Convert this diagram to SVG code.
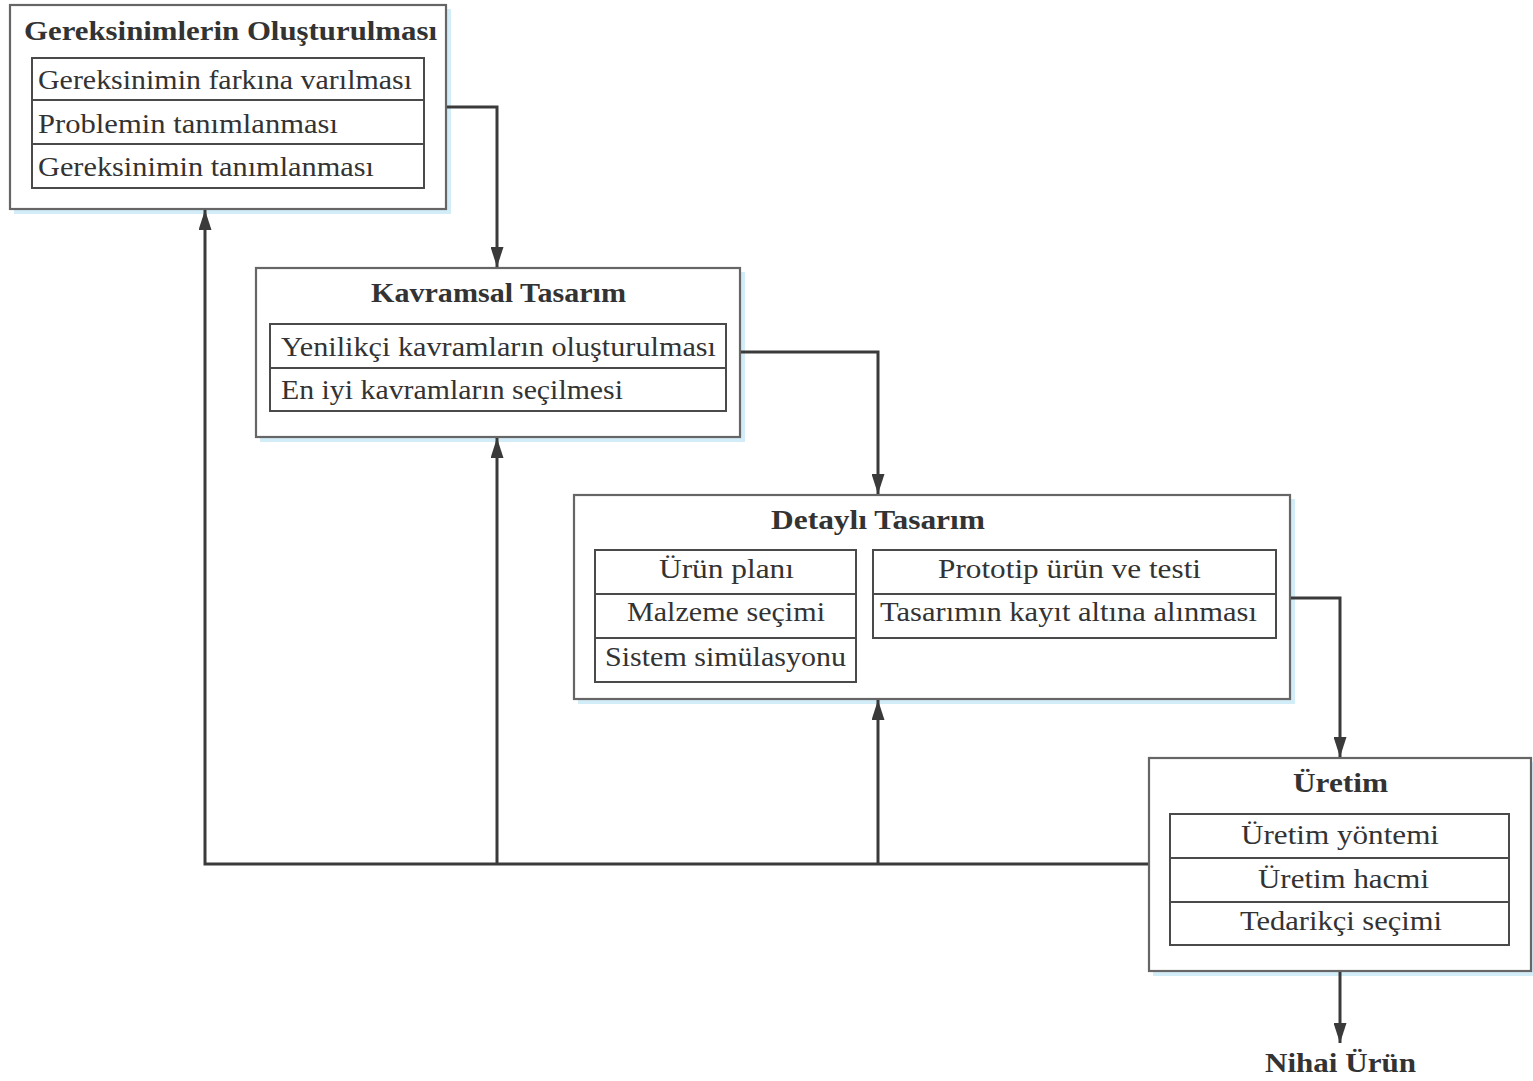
<svg xmlns="http://www.w3.org/2000/svg" width="1533" height="1081" viewBox="0 0 1533 1081">
<defs>
<style>
.shadow{fill:#d2ecf8;stroke:none}
.outer{fill:#fff;stroke:#666;stroke-width:2.2}
.inner{fill:#fff;stroke:#4a4a4a;stroke-width:2}
.sep{stroke:#4a4a4a;stroke-width:2}
.title{font-family:"Liberation Serif",serif;font-weight:bold;font-size:27px;fill:#333;text-anchor:middle}
.item{font-family:"Liberation Serif",serif;font-size:27px;fill:#333}
.c{text-anchor:middle}
.conn{fill:none;stroke:#3a3a3a;stroke-width:3}
</style>
<marker id="arr" markerWidth="20" markerHeight="13" refX="20" refY="6.5" orient="auto" markerUnits="userSpaceOnUse" viewBox="0 0 20 13">
<path d="M0,0 L20,6.5 L0,13 Z" fill="#3a3a3a"/>
</marker>
</defs>

<g id="gereksinim">
<rect class="shadow" x="14" y="9" width="437" height="205"/>
<rect class="outer" x="10" y="5" width="436" height="204"/>
<text class="title" x="230.5" y="40" textLength="413" lengthAdjust="spacingAndGlyphs">Gereksinimlerin Oluşturulması</text>
<rect class="inner" x="32" y="58" width="392" height="130"/>
<line class="sep" x1="32" y1="100" x2="424" y2="100"/>
<line class="sep" x1="32" y1="144" x2="424" y2="144"/>
<text class="item" x="38" y="89" textLength="374" lengthAdjust="spacingAndGlyphs">Gereksinimin farkına varılması</text>
<text class="item" x="38" y="133" textLength="300" lengthAdjust="spacingAndGlyphs">Problemin tanımlanması</text>
<text class="item" x="38" y="176" textLength="336" lengthAdjust="spacingAndGlyphs">Gereksinimin tanımlanması</text>
</g>

<g id="kavramsal">
<rect class="shadow" x="260" y="272" width="485" height="170"/>
<rect class="outer" x="256" y="268" width="484" height="169"/>
<text class="title" x="498.5" y="302" textLength="255" lengthAdjust="spacingAndGlyphs">Kavramsal Tasarım</text>
<rect class="inner" x="270" y="324" width="456" height="87"/>
<line class="sep" x1="270" y1="368" x2="726" y2="368"/>
<text class="item" x="281" y="356" textLength="435" lengthAdjust="spacingAndGlyphs">Yenilikçi kavramların oluşturulması</text>
<text class="item" x="281" y="399" textLength="342" lengthAdjust="spacingAndGlyphs">En iyi kavramların seçilmesi</text>
</g>

<g id="detayli">
<rect class="shadow" x="578" y="499" width="717" height="205"/>
<rect class="outer" x="574" y="495" width="716" height="204"/>
<text class="title" x="878" y="529" textLength="214" lengthAdjust="spacingAndGlyphs">Detaylı Tasarım</text>
<rect class="inner" x="595" y="550" width="261" height="132"/>
<line class="sep" x1="595" y1="594" x2="856" y2="594"/>
<line class="sep" x1="595" y1="638" x2="856" y2="638"/>
<text class="item c" x="726.5" y="578" textLength="135" lengthAdjust="spacingAndGlyphs">Ürün planı</text>
<text class="item c" x="726" y="621" textLength="198" lengthAdjust="spacingAndGlyphs">Malzeme seçimi</text>
<text class="item c" x="725.5" y="666" textLength="241" lengthAdjust="spacingAndGlyphs">Sistem simülasyonu</text>
<rect class="inner" x="873" y="550" width="403" height="88"/>
<line class="sep" x1="873" y1="594" x2="1276" y2="594"/>
<text class="item c" x="1069.5" y="578" textLength="263" lengthAdjust="spacingAndGlyphs">Prototip ürün ve testi</text>
<text class="item c" x="1068.5" y="621" textLength="377" lengthAdjust="spacingAndGlyphs">Tasarımın kayıt altına alınması</text>
</g>

<g id="uretim">
<rect class="shadow" x="1153" y="762" width="380" height="214"/>
<rect class="outer" x="1149" y="758" width="382" height="213"/>
<text class="title" x="1340.5" y="792" textLength="95" lengthAdjust="spacingAndGlyphs">Üretim</text>
<rect class="inner" x="1170" y="814" width="339" height="131"/>
<line class="sep" x1="1170" y1="858" x2="1509" y2="858"/>
<line class="sep" x1="1170" y1="902" x2="1509" y2="902"/>
<text class="item c" x="1340" y="844" textLength="198" lengthAdjust="spacingAndGlyphs">Üretim yöntemi</text>
<text class="item c" x="1343.5" y="888" textLength="171" lengthAdjust="spacingAndGlyphs">Üretim hacmi</text>
<text class="item c" x="1341" y="930" textLength="202" lengthAdjust="spacingAndGlyphs">Tedarikçi seçimi</text>
</g>

<g id="nihai">
<text class="title" x="1340.5" y="1072" textLength="151" lengthAdjust="spacingAndGlyphs">Nihai Ürün</text>
</g>

<g id="connectors">
<path class="conn" d="M447,107 H497 V267" marker-end="url(#arr)"/>
<path class="conn" d="M741,352 H878 V494" marker-end="url(#arr)"/>
<path class="conn" d="M1291,598 H1340 V757" marker-end="url(#arr)"/>
<path class="conn" d="M1340,972 V1043" marker-end="url(#arr)"/>
<path class="conn" d="M1148,864 H205 V210" marker-end="url(#arr)"/>
<path class="conn" d="M497,864 V438" marker-end="url(#arr)"/>
<path class="conn" d="M878,864 V700" marker-end="url(#arr)"/>
</g>
</svg>
